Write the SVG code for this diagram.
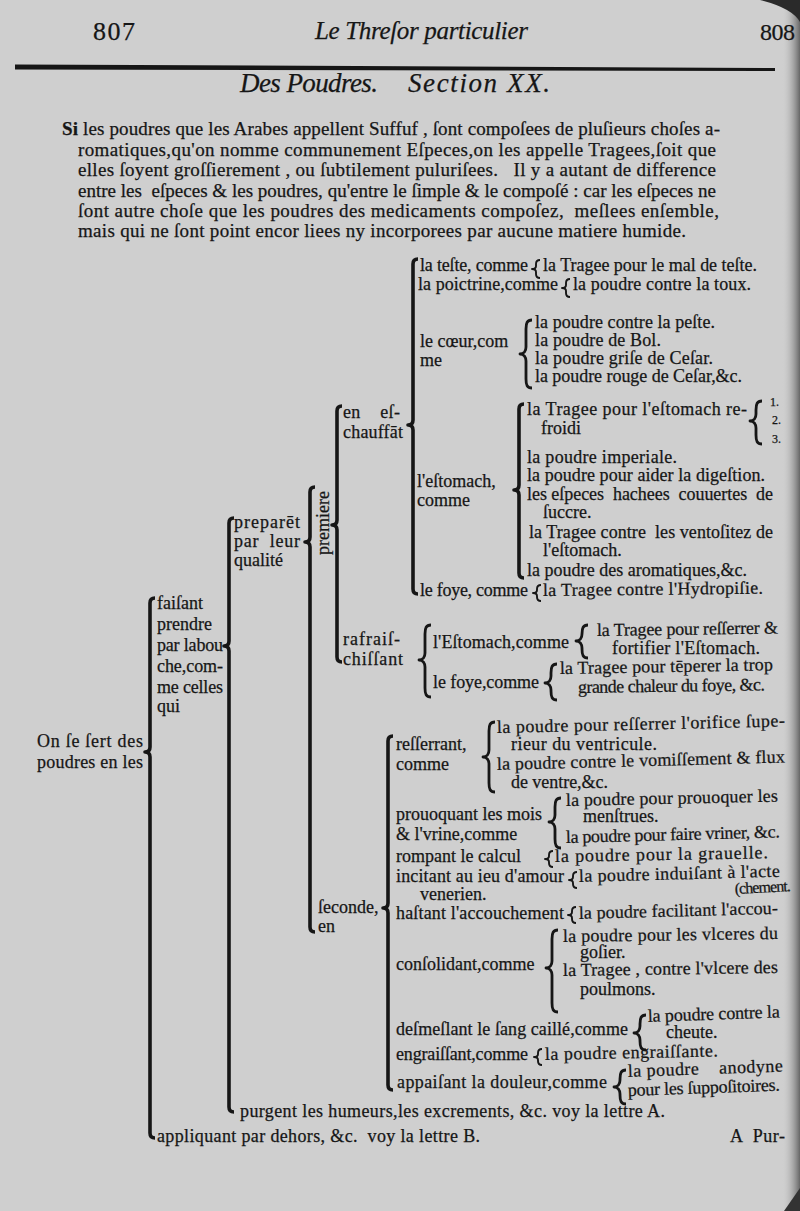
<svg xmlns="http://www.w3.org/2000/svg" width="800" height="1211" viewBox="0 0 800 1211">
<defs>
<linearGradient id="edge" x1="0" x2="1" y1="0" y2="0">
<stop offset="0" stop-color="#cfcfcf" stop-opacity="0"/>
<stop offset="1" stop-color="#5a5a5a" stop-opacity="0.9"/>
</linearGradient>
<style>
text{font-family:"Liberation Serif","DejaVu Serif",serif;fill:#161616;stroke:#161616;stroke-width:0.25}
.p{font-size:19px}
.t{font-size:18px}
.s{font-size:12px}
.i{font-style:italic}
.br{fill:none;stroke:#161616;stroke-width:3.6;stroke-linejoin:round}
.cb{fill:none;stroke:#161616;stroke-width:2.8;stroke-linejoin:round}
.sb{fill:none;stroke:#161616;stroke-width:1.9;stroke-linejoin:round}
</style>
</defs>
<rect width="800" height="1211" fill="#cfcfcf"/>
<rect x="782" y="0" width="18" height="1211" fill="url(#edge)"/>
<path d="M760,0 L800,0 L800,22 Q792,8 760,0 Z" fill="#2a2a2a"/>
<path d="M784,1211 L800,1188 L800,1211 Z" fill="#333"/>

<g id="header">
<text x="93" y="40" font-size="26" textLength="42">807</text>
<text class="i" x="315" y="39" font-size="25" textLength="213">Le Threſor particulier</text>
<text x="760" y="40" font-size="24" textLength="35">808</text>
<path d="M15,64.5 L775,68 L775,71 L15,69.5 Z" fill="#161616"/>
<text class="i" x="240" y="92" font-size="27" textLength="138">Des Poudres.</text>
<text class="i" x="408" y="92" font-size="27" textLength="142">Section XX.</text>
</g>

<g id="intro">
<text class="p" x="62" y="135" textLength="658"><tspan font-weight="bold">Si</tspan> les poudres que les Arabes appellent Suffuf , ſont compoſees de pluſieurs choſes a-</text>
<text class="p" x="78" y="155.5" textLength="638">romatiques,qu'on nomme communement Eſpeces,on les appelle Tragees,ſoit que</text>
<text class="p" x="78" y="176" textLength="638" xml:space="preserve">elles ſoyent groſſierement , ou ſubtilement puluriſees.   Il y a autant de difference</text>
<text class="p" x="78" y="196.5" textLength="638" xml:space="preserve">entre les  eſpeces &amp; les poudres, qu'entre le ſimple &amp; le compoſé : car les eſpeces ne</text>
<text class="p" x="78" y="217" textLength="641" xml:space="preserve">ſont autre choſe que les poudres des medicaments compoſez,  meſlees enſemble,</text>
<text class="p" x="78" y="237" textLength="608">mais qui ne ſont point encor liees ny incorporees par aucune matiere humide.</text>
</g>

<g id="connectors">
<path class="br" d="M155,598 Q150,598 150,603 L150,747 Q150,752 145,752 Q150,752 150,757 L150,1133 Q150,1138 155,1138"/>
<path class="br" d="M234,518 Q229,518 229,523 L229,641 Q229,646 224,646 Q229,646 229,651 L229,1107 Q229,1112 234,1112"/>
<path class="br" d="M315,487 Q310,487 310,492 L310,537 Q310,542 305,542 Q310,542 310,547 L310,927 Q310,932 315,932"/>
<path class="br" d="M342,406 Q337,406 337,411 L337,520 Q337,525 332,525 Q337,525 337,530 L337,657 Q337,662 342,662"/>
<path class="br" d="M393,736 Q388,736 388,741 L388,903 Q388,908 383,908 Q388,908 388,913 L388,1085 Q388,1090 393,1090"/>
<path class="br" d="M418,259 Q413,259 413,264 L413,420 Q413,425 408,425 Q413,425 413,430 L413,589 Q413,594 418,594"/>
<path class="br" d="M524,404 Q519,404 519,409 L519,485 Q519,490 514,490 Q519,490 519,495 L519,573 Q519,578 524,578"/>

<path class="cb" d="M532,320 C527,320 526,323 526,329 L526,347 C526,351 524,354 520,354 C524,354 526,357 526,361 L526,379 C526,385 527,388 532,388"/>
<path class="cb" d="M495,722 C490,722 489,725 489,731 L489,750 C489,754 487,757 483,757 C487,757 489,760 489,764 L489,783 C489,789 490,792 495,792"/>
<path class="cb" d="M561,798 C556,798 555,801 555,807 L555,815 C555,819 553,822 549,822 C553,822 555,825 555,829 L555,839 C555,845 556,848 561,848"/>
<path class="cb" d="M558,930 C553,930 552,933 552,939 L552,961 C552,965 550,968 546,968 C550,968 552,971 552,975 L552,1003 C552,1009 553,1012 558,1012"/>
<path class="cb" d="M431,625 C426,625 425,628 425,634 L425,653 C425,657 423,660 419,660 C423,660 425,663 425,667 L425,688 C425,694 426,697 431,697"/>
<path class="cb" d="M588,625 C583,625 582,628 582,634 L582,634 C582,638 580,641 576,641 C580,641 582,644 582,648 L582,649 C582,655 583,658 588,658"/>
<path class="cb" d="M557,664 C552,664 551,667 551,673 L551,676 C551,680 549,683 545,683 C549,683 551,686 551,690 L551,691 C551,697 552,700 557,700"/>
<path class="cb" d="M646,1015 C641,1015 640,1018 640,1024 L640,1026 C640,1030 638,1033 634,1033 C638,1033 640,1036 640,1040 L640,1041 C640,1047 641,1050 646,1050"/>
<path class="cb" d="M626,1070 C621,1070 620,1073 620,1079 L620,1080 C620,1084 618,1087 614,1087 C618,1087 620,1090 620,1094 L620,1095 C620,1101 621,1104 626,1104"/>
<path class="cb" d="M762,401 C757,401 756,404 756,410 L756,414 C756,418 754,421 750,421 C754,421 756,424 756,428 L756,435 C756,441 757,444 762,444"/>

<path class="sb" d="M540,260 Q536,260 536,264 L536,266 Q536,269 532,269 Q536,269 536,272 L536,274 Q536,278 540,278"/>
<path class="sb" d="M570,279 Q566,279 566,283 L566,285 Q566,288 562,288 Q566,288 566,291 L566,293 Q566,297 570,297"/>
<path class="sb" d="M541,585 Q537,585 537,589 L537,590 Q537,593 533,593 Q537,593 537,596 L537,597 Q537,601 541,601"/>
<path class="sb" d="M553,851 Q549,851 549,855 L549,856 Q549,859 545,859 Q549,859 549,862 L549,863 Q549,867 553,867"/>
<path class="sb" d="M577,872 Q573,872 573,876 L573,877 Q573,880 569,880 Q573,880 573,883 L573,884 Q573,888 577,888"/>
<path class="sb" d="M576,907 Q572,907 572,911 L572,912 Q572,915 568,915 Q572,915 572,918 L572,919 Q572,923 576,923"/>
<path class="sb" d="M542,1049 Q538,1049 538,1053 L538,1054 Q538,1057 534,1057 Q538,1057 538,1060 L538,1061 Q538,1065 542,1065"/>
</g>

<g id="root">
<text class="t" x="37" y="747" textLength="106">On ſe ſert des</text>
<text class="t" x="37" y="768" textLength="106">poudres en les</text>
</g>

<g id="bouche">
<text class="t" x="157" y="609">faiſant</text>
<text class="t" x="157" y="630">prendre</text>
<text class="t" x="157" y="651" textLength="66">par labou</text>
<text class="t" x="157" y="672" textLength="66">che,com-</text>
<text class="t" x="157" y="693" textLength="66">me celles</text>
<text class="t" x="157" y="712">qui</text>
</g>

<g id="qualite">
<text class="t" x="234" y="528" textLength="66">preparēt</text>
<text class="t" x="234" y="547" textLength="66" xml:space="preserve">par  leur</text>
<text class="t" x="234" y="566">qualité</text>
</g>

<g id="premiere">
<text class="t" transform="translate(329,523) rotate(-90)" text-anchor="middle">premiere</text>
</g>

<g id="eschauffant">
<text class="t" x="343" y="418" textLength="57" xml:space="preserve">en    eſ-</text>
<text class="t" x="343" y="438" textLength="60">chauffāt</text>
</g>

<g id="teste">
<text class="t" x="420" y="271" textLength="108">la teſte, comme</text>
<text class="t" x="543" y="271" textLength="214">la Tragee pour le mal de teſte.</text>
</g>

<g id="poictrine">
<text class="t" x="418" y="290" textLength="140">la poictrine,comme</text>
<text class="t" x="573" y="290" textLength="178">la poudre contre la toux.</text>
</g>

<g id="coeur">
<text class="t" x="420" y="347">le cœur,com</text>
<text class="t" x="420" y="366">me</text>
<text class="t" x="535" y="328" textLength="180">la poudre contre la peſte.</text>
<text class="t" x="535" y="346" textLength="126">la poudre de Bol.</text>
<text class="t" x="535" y="364" textLength="178">la poudre griſe de Ceſar.</text>
<text class="t" x="535" y="382" textLength="207">la poudre rouge de Ceſar,&amp;c.</text>
</g>

<g id="estomach">
<text class="t" x="417" y="487">l'eſtomach,</text>
<text class="t" x="417" y="506">comme</text>
<text class="t" x="527" y="415" textLength="220">la Tragee pour l'eſtomach re-</text>
<text class="t" x="541" y="434">froidi</text>
<text class="s" x="770" y="406">1.</text>
<text class="s" x="772" y="424">2.</text>
<text class="s" x="772" y="443">3.</text>
<text class="t" x="527" y="463" textLength="150">la poudre imperiale.</text>
<text class="t" x="527" y="481" textLength="238">la poudre pour aider la digeſtion.</text>
<text class="t" x="527" y="500" textLength="246" xml:space="preserve">les eſpeces  hachees  couuertes  de</text>
<text class="t" x="543" y="518">ſuccre.</text>
<text class="t" x="529" y="538" textLength="244" xml:space="preserve">la Tragee contre  les ventoſitez de</text>
<text class="t" x="543" y="556">l'eſtomach.</text>
<text class="t" x="527" y="576" textLength="220">la poudre des aromatiques,&amp;c.</text>
</g>

<g id="foye">
<text class="t" x="420" y="596" textLength="108">le foye, comme</text>
<text class="t" x="543" y="596" textLength="220" transform="rotate(-0.6 543 596)">la Tragee contre l'Hydropiſie.</text>
</g>

<g id="rafraischissant">
<text class="t" x="343" y="645" textLength="57">rafraiſ-</text>
<text class="t" x="343" y="665" textLength="60">chiſſant</text>
</g>

<g id="estomach2">
<text class="t" x="433" y="648" textLength="136">l'Eſtomach,comme</text>
<text class="t" x="597" y="636" textLength="181" transform="rotate(-0.8 597 636)">la Tragee pour reſſerrer &amp;</text>
<text class="t" x="612" y="654" textLength="148">fortifier l'Eſtomach.</text>
</g>

<g id="foye2">
<text class="t" x="433" y="688" textLength="106">le foye,comme</text>
<text class="t" x="560" y="674" textLength="213" transform="rotate(-1 560 674)">la Tragee pour tēperer la trop</text>
<text class="t" x="578" y="693" textLength="187" transform="rotate(-0.8 578 693)">grande chaleur du foye, &amp;c.</text>
</g>

<g id="seconde">
<text class="t" x="318" y="913">ſeconde,</text>
<text class="t" x="318" y="932">en</text>
</g>

<g id="resserrant">
<text class="t" x="396" y="750">reſſerrant,</text>
<text class="t" x="396" y="770">comme</text>
<text class="t" x="497" y="733" textLength="288" transform="rotate(-1.3 497 733)">la poudre pour reſſerrer l'orifice ſupe-</text>
<text class="t" x="511" y="750" textLength="146">rieur du ventricule.</text>
<text class="t" x="497" y="770" textLength="288" transform="rotate(-1.5 497 770)">la poudre contre le vomiſſement &amp; flux</text>
<text class="t" x="511" y="788" textLength="97">de ventre,&amp;c.</text>
</g>

<g id="prouoquant">
<text class="t" x="396" y="820">prouoquant les mois</text>
<text class="t" x="396" y="840">&amp; l'vrine,comme</text>
<text class="t" x="566" y="806" textLength="212" transform="rotate(-1.2 566 806)">la poudre pour prouoquer les</text>
<text class="t" x="583" y="822">menſtrues.</text>
<text class="t" x="566" y="843" textLength="214" transform="rotate(-1.5 566 843)">la poudre pour faire vriner, &amp;c.</text>
</g>

<g id="rompant">
<text class="t" x="396" y="862">rompant le calcul</text>
<text class="t" x="555" y="862" textLength="213" transform="rotate(-1 555 862)">la poudre pour la grauelle.</text>
</g>

<g id="incitant">
<text class="t" x="396" y="882" textLength="168">incitant au ieu d'amour</text>
<text class="t" x="420" y="900">venerien.</text>
<text class="t" x="579" y="882" textLength="201" transform="rotate(-1.5 579 882)">la poudre induiſant à l'acte</text>
</g>

<g id="hastant">
<text class="t" x="396" y="919" textLength="168">haſtant l'accouchement</text>
<text class="t" x="579" y="919" textLength="199" transform="rotate(-1.5 579 919)">la poudre facilitant l'accou-</text>
<text x="735" y="894" font-size="16" textLength="56" transform="rotate(-3 735 894)">(chement.</text>
</g>

<g id="consolidant">
<text class="t" x="396" y="970">conſolidant,comme</text>
<text class="t" x="563" y="942" textLength="215" transform="rotate(-0.8 563 942)">la poudre pour les vlceres du</text>
<text class="t" x="580" y="958">goſier.</text>
<text class="t" x="563" y="976" textLength="215" transform="rotate(-0.8 563 976)">la Tragee , contre l'vlcere des</text>
<text class="t" x="580" y="995">poulmons.</text>
</g>

<g id="desmeslant">
<text class="t" x="396" y="1035" textLength="232">deſmeſlant le ſang caillé,comme</text>
<text class="t" x="648" y="1022" textLength="132" transform="rotate(-2 648 1022)">la poudre contre la</text>
<text class="t" x="666" y="1038">cheute.</text>
</g>

<g id="engraissant">
<text class="t" x="396" y="1060" textLength="132">engraiſſant,comme</text>
<text class="t" x="545" y="1060" textLength="173" transform="rotate(-1.2 545 1060)">la poudre engraiſſante.</text>
</g>

<g id="appaisant">
<text class="t" x="397" y="1088" textLength="210">appaiſant la douleur,comme</text>
<text class="t" x="628" y="1077" textLength="155" xml:space="preserve" transform="rotate(-2 628 1077)">la poudre    anodyne</text>
<text class="t" x="628" y="1096" textLength="152" transform="rotate(-2 628 1096)">pour les ſuppoſitoires.</text>
</g>

<g id="purgent">
<text class="t" x="240" y="1117" textLength="425">purgent les humeurs,les excrements, &amp;c. voy la lettre A.</text>
</g>

<g id="appliquant">
<text class="t" x="157" y="1142" textLength="323" xml:space="preserve">appliquant par dehors, &amp;c.  voy la lettre B.</text>
</g>

<g id="catchword">
<text class="t" x="730" y="1142" textLength="55" xml:space="preserve">A  Pur-</text>
</g>
</svg>
